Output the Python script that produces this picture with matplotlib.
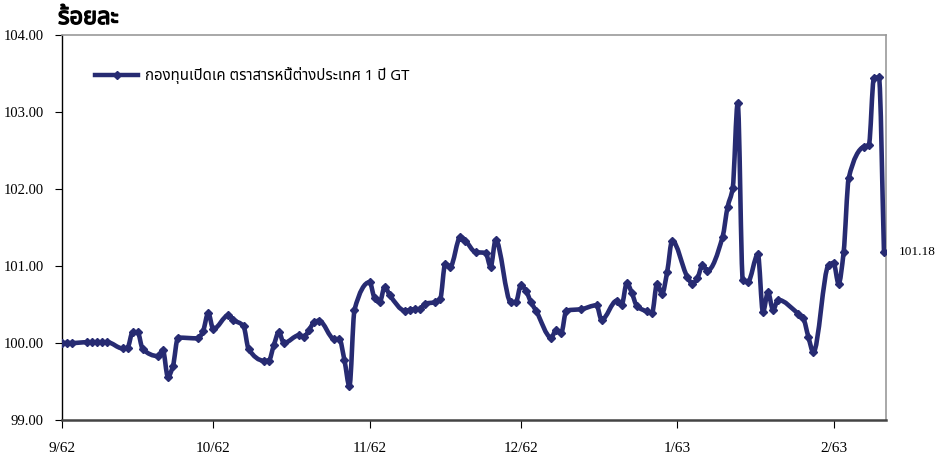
import matplotlib
matplotlib.use('Agg')
import matplotlib.pyplot as plt
import matplotlib.dates as mdates
import matplotlib.patheffects as pe
from matplotlib.path import Path
from matplotlib.patches import PathPatch
from matplotlib.lines import Line2D
from matplotlib import font_manager
import numpy as np
import pandas as pd

# ---------------- data ----------------
dates = [
    # Sep 2019 (9/62)
    '2019-09-01', '2019-09-02', '2019-09-03', '2019-09-06', '2019-09-07', '2019-09-08',
    '2019-09-09', '2019-09-10', '2019-09-13', '2019-09-14', '2019-09-15', '2019-09-16',
    '2019-09-17', '2019-09-20', '2019-09-21', '2019-09-22', '2019-09-23', '2019-09-24',
    '2019-09-28', '2019-09-29', '2019-09-30',
    # Oct 2019
    '2019-10-01', '2019-10-04', '2019-10-05', '2019-10-07', '2019-10-08', '2019-10-11',
    '2019-10-12', '2019-10-13', '2019-10-14', '2019-10-15', '2019-10-18', '2019-10-19',
    '2019-10-20', '2019-10-21', '2019-10-22', '2019-10-25', '2019-10-26', '2019-10-27',
    '2019-10-28', '2019-10-29',
    # Nov 2019
    '2019-11-01', '2019-11-02', '2019-11-03', '2019-11-04', '2019-11-05', '2019-11-08',
    '2019-11-09', '2019-11-10', '2019-11-11', '2019-11-12', '2019-11-14', '2019-11-15',
    '2019-11-16', '2019-11-17', '2019-11-19', '2019-11-20', '2019-11-22', '2019-11-24',
    '2019-11-25', '2019-11-26', '2019-11-29', '2019-11-30',
    # Dec 2019
    '2019-12-01', '2019-12-02', '2019-12-03', '2019-12-04', '2019-12-07', '2019-12-08',
    '2019-12-09', '2019-12-10', '2019-12-13', '2019-12-16', '2019-12-17', '2019-12-20',
    '2019-12-21', '2019-12-22', '2019-12-23', '2019-12-24', '2019-12-26', '2019-12-27',
    '2019-12-28', '2019-12-29', '2019-12-30', '2019-12-31',
    # Jan 2020
    '2020-01-03', '2020-01-04', '2020-01-05', '2020-01-06', '2020-01-07', '2020-01-10',
    '2020-01-11', '2020-01-12', '2020-01-13', '2020-01-14', '2020-01-15', '2020-01-17',
    '2020-01-18', '2020-01-19', '2020-01-20', '2020-01-21', '2020-01-25', '2020-01-26',
    '2020-01-27', '2020-01-28', '2020-01-31',
    # Feb 2020
    '2020-02-01', '2020-02-02', '2020-02-03', '2020-02-04', '2020-02-07', '2020-02-08',
    '2020-02-09', '2020-02-10', '2020-02-11',
]
values = [
    100.00, 100.00, 100.00, 100.01, 100.01, 100.01,
    100.01, 100.01, 99.93, 99.94, 100.14, 100.14,
    99.92, 99.83, 99.91, 99.56, 99.70, 100.07,
    100.06, 100.16, 100.39,
    100.18, 100.36, 100.30, 100.22, 99.92, 99.77,
    99.77, 99.97, 100.14, 100.00, 100.10, 100.08,
    100.17, 100.27, 100.29, 100.05, 100.05, 99.78,
    99.44, 100.43,
    100.79, 100.58, 100.53, 100.73, 100.62, 100.42,
    100.43, 100.44, 100.44, 100.51, 100.53, 100.57,
    101.03, 100.99, 101.38, 101.33, 101.18, 101.17,
    100.99, 101.34, 100.53, 100.53,
    100.75, 100.68, 100.53, 100.42, 100.07, 100.17,
    100.13, 100.42, 100.44, 100.49, 100.30, 100.55,
    100.50, 100.78, 100.65, 100.48, 100.41, 100.39,
    100.77, 100.64, 100.92, 101.33,
    100.86, 100.77, 100.84, 101.01, 100.94, 101.38,
    101.77, 102.01, 103.12, 100.82, 100.79, 101.15,
    100.40, 100.66, 100.43, 100.56, 100.38, 100.32,
    100.08, 99.88, 101.01,
    101.04, 100.77, 101.18, 102.14, 102.55, 102.57,
    103.44, 103.45, 101.18,
]
series_name = 'กองทุนเปิดเค ตราสารหนี้ต่างประเทศ 1 ปี GT'
y_title = 'ร้อยละ'
tick_dates = ['2019-09-01', '2019-10-01', '2019-11-01', '2019-12-01', '2020-01-01', '2020-02-01']
tick_labels = ['9/62', '10/62', '11/62', '12/62', '1/63', '2/63']
y_ticks = [99.0, 100.0, 101.0, 102.0, 103.0, 104.0]

# ---------------- fonts ----------------
def find_thai_families():
    fams = []
    try:
        from fontTools.ttLib import TTFont
    except Exception:
        return fams
    seen = set()
    for fe in font_manager.fontManager.ttflist:
        if fe.name in seen:
            continue
        try:
            f = TTFont(fe.fname, fontNumber=0, lazy=True)
            cmap = f.getBestCmap()
            if cmap and 0x0E01 in cmap and 0x0E49 in cmap:
                fams.append(fe.name)
                seen.add(fe.name)
        except Exception:
            pass
    return fams

thai_fams = find_thai_families()
pref = ['Tahoma', 'Noto Sans Thai', 'Noto Sans Thai UI', 'Loma', 'Garuda', 'Umpush',
        'Waree', 'Sawasdee', 'TlwgTypo', 'Norasi', 'Kinnari', 'FreeSans', 'FreeSerif']
ordered = [p for p in pref if p in thai_fams] + [f for f in thai_fams if f not in pref]
thai_list = ordered + ['DejaVu Sans']

serif = ['Liberation Serif', 'DejaVu Serif']

# ---------------- figure ----------------
color = '#272B72'
fig = plt.figure(figsize=(9.45, 4.55), dpi=100)
ax = fig.add_axes([62 / 945, 1 - 420 / 455, (886 - 62) / 945, (420 - 35) / 455])

xs = mdates.date2num(pd.to_datetime(dates).to_pydatetime())
ys = np.asarray(values, dtype=float)

# smooth, x-monotone curve (PCHIP slopes -> cubic Bezier) in data coordinates
n = len(xs)
h = np.diff(xs)
delta = np.diff(ys) / h
m = np.zeros(n)
m[0] = delta[0]
m[-1] = delta[-1]
for i in range(1, n - 1):
    if delta[i - 1] * delta[i] <= 0:
        m[i] = 0.0
    else:
        w1 = 2 * h[i] + h[i - 1]
        w2 = h[i] + 2 * h[i - 1]
        m[i] = (w1 + w2) / (w1 / delta[i - 1] + w2 / delta[i])
verts = [(xs[0], ys[0])]
codes = [Path.MOVETO]
for i in range(n - 1):
    c1 = (xs[i] + h[i] / 3.0, ys[i] + m[i] * h[i] / 3.0)
    c2 = (xs[i + 1] - h[i] / 3.0, ys[i + 1] - m[i + 1] * h[i] / 3.0)
    verts += [c1, c2, (xs[i + 1], ys[i + 1])]
    codes += [Path.CURVE4] * 3
path = Path(verts, codes)
ax.add_patch(PathPatch(path, fill=False, edgecolor=color, lw=3.3,
                       capstyle='round', joinstyle='round', zorder=3))
ax.plot(xs, ys, linestyle='none', marker='D', markersize=3.6, color=color, zorder=4)

# axes limits
x0 = mdates.date2num(pd.Timestamp('2019-09-01').to_pydatetime())
x1 = mdates.date2num(pd.Timestamp('2020-02-11').to_pydatetime()) + 0.4
ax.set_xlim(x0, x1)
ax.set_ylim(99.0, 104.0)

ax.set_xticks(mdates.date2num(pd.to_datetime(tick_dates).to_pydatetime()))
ax.set_xticklabels(tick_labels, family=serif, fontsize=11)
ax.set_yticks(y_ticks)
ax.set_yticklabels([f'{v:.2f}' for v in y_ticks], family=serif, fontsize=10.5)
ax.tick_params(axis='y', direction='out', length=5, width=0.8, pad=8, colors='black')
ax.tick_params(axis='x', direction='out', length=6, width=0.8, pad=9.5, colors='black')

for s in ['top', 'right']:
    ax.spines[s].set_color('#999999')
    ax.spines[s].set_linewidth(1.2)
ax.spines['left'].set_color('black')
ax.spines['left'].set_linewidth(1.0)
ax.spines['bottom'].set_color('#444444')
ax.spines['bottom'].set_linewidth(1.8)

# last value annotation
ax.annotate(f'{values[-1]:.2f}', xy=(xs[-1], ys[-1]), xytext=(15, 0),
            textcoords='offset pixels', va='center', ha='left',
            family=serif, fontsize=9.5, annotation_clip=False)

# legend
handle = Line2D([], [], color=color, lw=3.2, marker='D', markersize=3.6)
leg = ax.legend([handle], [series_name], loc='center left',
                bbox_to_anchor=(33 / 824, (420 - 76) / 385), frameon=False,
                borderpad=0, borderaxespad=0, handlelength=2.9, handletextpad=0.45,
                prop={'family': thai_list, 'size': 10.8})

# y-axis title (bold look)
fig.text(58 / 945, 1 - 18 / 455, y_title, family=thai_list, fontsize=17,
         fontweight='bold', ha='left', va='center',
         path_effects=[pe.withStroke(linewidth=1.0, foreground='black')])

fig.savefig('out.png', dpi=100)
